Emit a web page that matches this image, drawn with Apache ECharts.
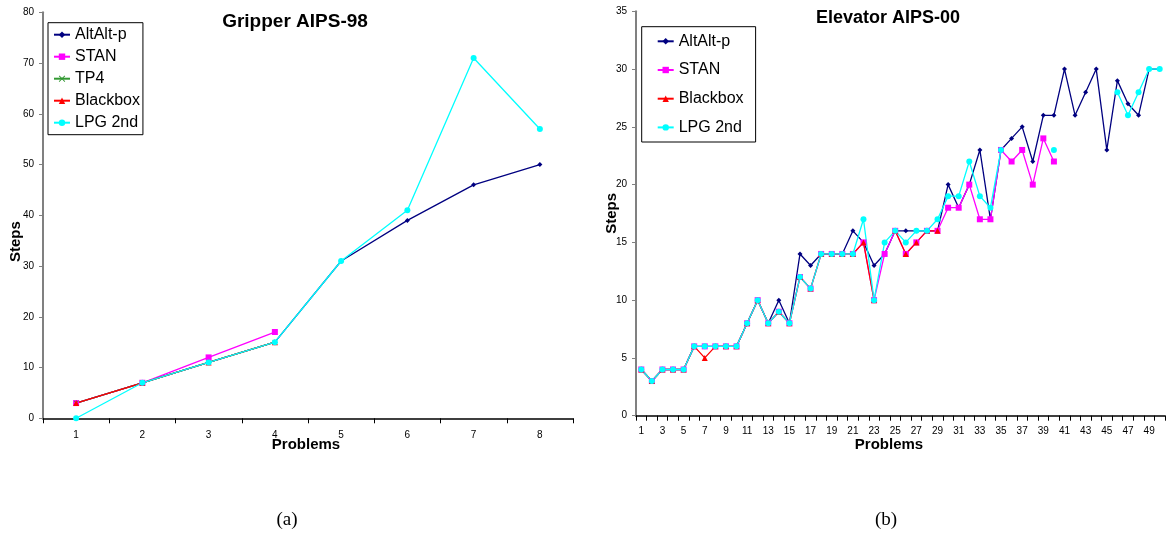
<!DOCTYPE html>
<html>
<head>
<meta charset="utf-8">
<script src="https://cdn.jsdelivr.net/npm/echarts@6/dist/echarts.min.js"></script>
<style>
html,body{margin:0;padding:0;background:#fff;}
#chart{width:1167px;height:536px;}
</style>
</head>
<body>
<div id="chart"></div>
<script>
// ---- Data: Gripper AIPS-98 (a) ----
const gripperProblems = ['1','2','3','4','5','6','7','8'];
const gripperAltAlt = [3, 7, 11, 15, 31, 39, 46, 50];
const gripperStan = [3, 7, 12, 17];
const gripperTP4 = [3, 7, 11, 15];
const gripperBlackbox = [3, 7, 11, 15];
const gripperLPG = [0, 7, 11, 15, 31, 41, 71, 57];

// ---- Data: Elevator AIPS-00 (b) ----
const elevatorProblems = Array.from({length: 50}, (_, i) => String(i + 1));
const elevatorAltAlt = [4,3,4,4,4,6,6,6,6,6, 8,10,8,10,8,14,13,14,14,14, 16,15,13,14,16,16,16,16,16,20, 18,20,23,17,23,24,25,22,26,26, 30,26,28,30,23,29,27,26,30,30];
const elevatorStan = [4,3,4,4,4,6,6,6,6,6, 8,10,8,9,8,12,11,14,14,14, 14,15,10,14,16,14,15,16,16,18, 18,20,17,17,23,22,23,20,24,22];
const elevatorBlackbox = [4,3,4,4,4,6,5,6,6,6, 8,10,8,9,8,12,11,14,14,14, 14,15,10,null,16,14,15,16,16];
const elevatorLPG = [4,3,4,4,4,6,6,6,6,6, 8,10,8,9,8,12,11,14,14,14, 14,17,10,15,16,15,16,16,17,19, 19,22,19,18,23,null,null,null,null,23, null,null,null,null,null,28,26,28,30,30];

const FONT = "'Liberation Sans', Arial, sans-serif";
const xMark = 'path://M1,0L5,4L9,0L10,1L6,5L10,9L9,10L5,6L1,10L0,9L4,5L0,1Z';

const styles = {
  'AltAlt-p': {color: '#000080', symbol: 'diamond', symbolSize: 5},
  'STAN': {color: '#FF00FF', symbol: 'rect', symbolSize: 6},
  'TP4': {color: '#339933', symbol: xMark, symbolSize: 5},
  'Blackbox': {color: '#FF0000', symbol: 'triangle', symbolSize: 6},
  'LPG 2nd': {color: '#00FFFF', symbol: 'circle', symbolSize: 6}
};

function mk(name, data, idx) {
  const s = styles[name];
  return {
    type: 'line', name: name, data: data,
    xAxisIndex: idx, yAxisIndex: idx,
    symbol: s.symbol, symbolSize: s.symbolSize,
    showAllSymbol: true, connectNulls: false,
    itemStyle: {color: s.color},
    lineStyle: {color: s.color, width: 1.3},
    emphasis: {disabled: true}
  };
}

const axisLabel = {fontFamily: FONT, fontSize: 10, color: '#000'};

const chart = echarts.init(document.getElementById('chart'), null, {renderer: 'canvas'});
chart.setOption({
  animation: false,
  backgroundColor: '#fff',
  grid: [
    {left: 43, top: 12.3, width: 530, height: 406},
    {left: 636, top: 11.3, width: 529, height: 404.4}
  ],
  xAxis: [
    {
      type: 'category', gridIndex: 0, data: gripperProblems, boundaryGap: true,
      axisLine: {lineStyle: {color: '#000', width: 1.5}},
      axisTick: {show: true, length: 5, interval: 0, lineStyle: {color: '#000'}},
      axisLabel: Object.assign({margin: 12, interval: 0}, axisLabel),
      splitLine: {show: false}
    },
    {
      type: 'category', gridIndex: 1, data: elevatorProblems, boundaryGap: true,
      axisLine: {lineStyle: {color: '#000', width: 1.5}},
      axisTick: {show: true, length: 5, interval: 0, lineStyle: {color: '#000'}},
      axisLabel: Object.assign({margin: 11, interval: 1}, axisLabel),
      splitLine: {show: false}
    }
  ],
  yAxis: [
    {
      type: 'value', gridIndex: 0, min: 0, max: 80, interval: 10,
      axisLine: {show: true, lineStyle: {color: '#808080', width: 2}},
      axisTick: {show: true, length: 4, lineStyle: {color: '#808080'}},
      axisLabel: Object.assign({margin: 9}, axisLabel),
      splitLine: {show: false}
    },
    {
      type: 'value', gridIndex: 1, min: 0, max: 35, interval: 5,
      axisLine: {show: true, lineStyle: {color: '#808080', width: 2}},
      axisTick: {show: true, length: 4, lineStyle: {color: '#808080'}},
      axisLabel: Object.assign({margin: 9}, axisLabel),
      splitLine: {show: false}
    }
  ],
  legend: [
    {
      orient: 'vertical', left: 48, top: 22.7,
      padding: [4, 3, 4, 5],
      borderColor: '#000', borderWidth: 1, backgroundColor: '#fff',
      itemWidth: 16, itemHeight: 8, itemGap: 6,
      textStyle: {fontFamily: FONT, fontSize: 16, color: '#000'},
      data: ['AltAlt-p', 'STAN', 'TP4', 'Blackbox', 'LPG 2nd'],
      selectedMode: false
    },
    {
      orient: 'vertical', left: 641.7, top: 26.7,
      padding: [6.6, 12, 6.6, 15],
      borderColor: '#000', borderWidth: 1, backgroundColor: '#fff',
      itemWidth: 16, itemHeight: 8, itemGap: 12.7,
      textStyle: {fontFamily: FONT, fontSize: 16, color: '#000'},
      data: ['AltAlt-p', 'STAN', 'Blackbox', 'LPG 2nd'],
      selectedMode: false
    }
  ],
  series: [
    mk('AltAlt-p', gripperAltAlt, 0),
    mk('STAN', gripperStan, 0),
    mk('TP4', gripperTP4, 0),
    mk('Blackbox', gripperBlackbox, 0),
    mk('LPG 2nd', gripperLPG, 0),
    mk('AltAlt-p', elevatorAltAlt, 1),
    mk('STAN', elevatorStan, 1),
    mk('Blackbox', elevatorBlackbox, 1),
    mk('LPG 2nd', elevatorLPG, 1)
  ],
  graphic: [
    {type: 'text', x: 295, y: 21.7, style: {text: 'Gripper AIPS-98', font: "bold 19px " + FONT, fill: '#000', align: 'center', verticalAlign: 'middle'}},
    {type: 'text', x: 888, y: 18.3, style: {text: 'Elevator AIPS-00', font: "bold 18px " + FONT, fill: '#000', align: 'center', verticalAlign: 'middle'}},
    {type: 'text', x: 16, y: 241.7, rotation: Math.PI / 2, style: {text: 'Steps', font: "bold 15px " + FONT, fill: '#000', align: 'center', verticalAlign: 'middle'}},
    {type: 'text', x: 611.7, y: 213.3, rotation: Math.PI / 2, style: {text: 'Steps', font: "bold 15px " + FONT, fill: '#000', align: 'center', verticalAlign: 'middle'}},
    {type: 'text', x: 306, y: 445, style: {text: 'Problems', font: "bold 15px " + FONT, fill: '#000', align: 'center', verticalAlign: 'middle'}},
    {type: 'text', x: 889, y: 445, style: {text: 'Problems', font: "bold 15px " + FONT, fill: '#000', align: 'center', verticalAlign: 'middle'}},
    {type: 'text', x: 287, y: 520, style: {text: '(a)', font: "19px 'Liberation Serif', 'DejaVu Serif', serif", fill: '#000', align: 'center', verticalAlign: 'middle'}},
    {type: 'text', x: 886, y: 520, style: {text: '(b)', font: "19px 'Liberation Serif', 'DejaVu Serif', serif", fill: '#000', align: 'center', verticalAlign: 'middle'}}
  ]
});
</script>
</body>
</html>
